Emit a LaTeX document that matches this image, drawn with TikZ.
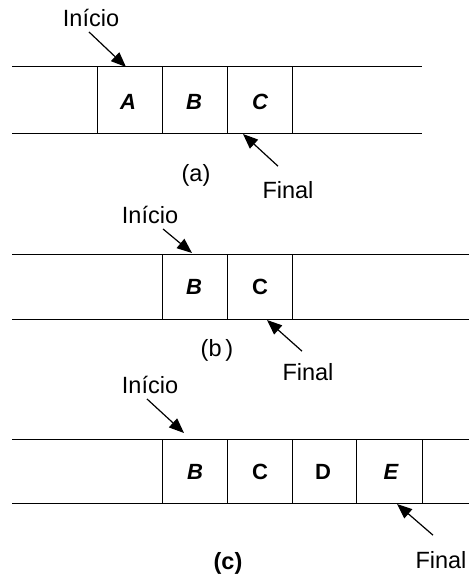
\documentclass[tikz,border=0pt]{standalone}
\usepackage{fontspec}
\setmainfont{Liberation Sans}
\usetikzlibrary{arrows.meta}
\begin{document}
\begin{tikzpicture}[x=1pt,y=-1pt,
  lbl/.style={font=\fontsize{23.5}{26}\selectfont, inner sep=0pt},
  cellt/.style={font=\fontsize{22}{26}\selectfont\bfseries, inner sep=0pt},
  ln/.style={line width=1pt},
  ptr/.style={line width=1.2pt, -{Triangle[length=15pt,width=12pt]}}]
\useasboundingbox (0,0) rectangle (469,575);
% ---------- (a)
\draw[ln] (12,67) -- (422,67) (12,133) -- (422,133);
\foreach \x in {97,162,227,292} \draw[ln] (\x,67) -- (\x,133);
\node[cellt] (a1) at (128,102) {\itshape A};
\node[cellt] (a2) at (194,102) {\itshape B};
\node[cellt] (a3) at (260,102) {\itshape C};
\node[lbl] (ia) at (91,18) {Início};
\coordinate (ta) at (126,67);
\draw[ptr] ([xshift=-2pt,yshift=-5pt]ia.south) -- (ta);
\node[lbl] (fa) at (288,190) {Final};
\coordinate (ea) at (243,134);
\draw[ptr] ([xshift=-10pt,yshift=15pt]fa.north) -- (ea);
\node[lbl] (la) at (196,175) {(a)};
% ---------- (b)
\draw[ln] (12,254) -- (469,254) (12,319) -- (469,319);
\foreach \x in {162,227,292} \draw[ln] (\x,254) -- (\x,319);
\node[cellt] (b1) at (194,287) {\itshape B};
\node[cellt] (b2) at (260,287) {C};
\node[lbl] (ib) at (150,215) {Início};
\coordinate (tb) at (192,253);
\draw[ptr] ([xshift=13pt,yshift=-5pt]ib.south) -- (tb);
\node[lbl] (fb) at (308,372) {Final};
\coordinate (eb) at (267,320);
\draw[ptr] ([xshift=-6pt,yshift=12pt]fb.north) -- (eb);
\node[lbl] (lb) at (217,350) {(b\,)};
% ---------- (c)
\draw[ln] (12,439) -- (469,439) (12,503) -- (469,503);
\foreach \x in {162,227,292,356,422} \draw[ln] (\x,439) -- (\x,503);
\node[cellt] (c1) at (195,472) {\itshape B};
\node[cellt] (c2) at (260,472) {C};
\node[cellt] (c3) at (323,472) {D};
\node[cellt] (c4) at (391,472) {\itshape E};
\node[lbl] (ic) at (150,385) {Início};
\coordinate (tc) at (184,433);
\draw[ptr] ([xshift=-3pt,yshift=-5pt]ic.south) -- (tc);
\node[lbl] (fc) at (441,560) {Final};
\coordinate (ec) at (397,504);
\draw[ptr] ([xshift=-8pt,yshift=16pt]fc.north) -- (ec);
\node[lbl,font=\fontsize{23.5}{26}\selectfont\bfseries] (lc) at (228,563) {(c)};
\end{tikzpicture}
\end{document}
